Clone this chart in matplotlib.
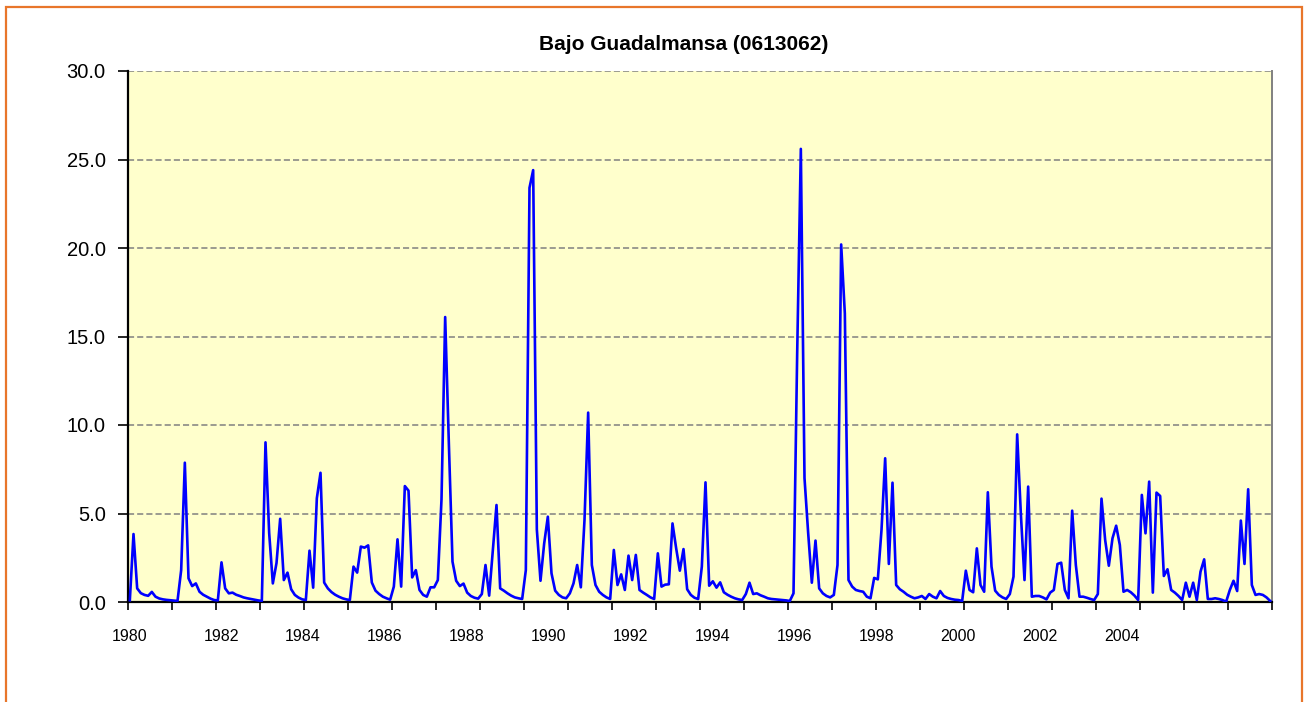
import numpy as np
import matplotlib
matplotlib.use("Agg")
import matplotlib.pyplot as plt
from matplotlib.patches import Rectangle

# --------------------------------
# Datos (caudal medio mensual, hm3)
# --------------------------------
titulo = "Bajo Guadalmansa (0613062)"
anios = ["1980", "1982", "1984", "1986", "1988", "1990", "1992",
         "1994", "1996", "1998", "2000", "2002", "2004"]
caudal = [
    0.10, 3.84, 0.77, 0.50, 0.40, 0.35, 0.57, 0.30, 0.20, 0.15, 0.12, 0.10,   # 1980
    0.08, 0.06, 1.80, 7.87, 1.34, 0.90, 1.05, 0.58, 0.41, 0.30, 0.19, 0.11,   # 1981
    0.09, 2.24, 0.77, 0.49, 0.53, 0.41, 0.34, 0.26, 0.21, 0.17, 0.13, 0.09,   # 1982
    0.06, 9.02, 3.90, 1.05, 2.20, 4.70, 1.24, 1.66, 0.72, 0.40, 0.25, 0.15,   # 1983
    0.11, 2.90, 0.81, 5.86, 7.30, 1.10, 0.77, 0.56, 0.41, 0.30, 0.21, 0.15,   # 1984
    0.11, 2.00, 1.66, 3.13, 3.07, 3.20, 1.10, 0.64, 0.45, 0.30, 0.21, 0.13,   # 1985
    0.87, 3.54, 0.87, 6.55, 6.29, 1.39, 1.80, 0.68, 0.40, 0.30, 0.83, 0.83,   # 1986
    1.24, 5.80, 16.1, 9.00, 2.28, 1.20, 0.90, 1.04, 0.53, 0.34, 0.24, 0.19,   # 1987
    0.45, 2.09, 0.36, 2.94, 5.48, 0.77, 0.64, 0.49, 0.36, 0.26, 0.21, 0.17,   # 1988
    1.80, 23.4, 24.4, 4.10, 1.20, 3.30, 4.82, 1.62, 0.64, 0.40, 0.26, 0.21,   # 1989
    0.49, 1.05, 2.09, 0.83, 4.63, 10.7, 2.09, 0.96, 0.58, 0.40, 0.26, 0.17,   # 1990
    2.94, 0.96, 1.56, 0.68, 2.62, 1.24, 2.66, 0.68, 0.53, 0.40, 0.26, 0.17,   # 1991
    2.75, 0.87, 0.98, 1.00, 4.44, 3.03, 1.77, 2.99, 0.72, 0.40, 0.24, 0.17,   # 1992
    2.00, 6.76, 0.92, 1.17, 0.81, 1.11, 0.55, 0.41, 0.30, 0.21, 0.15, 0.11,   # 1993
    0.45, 1.09, 0.45, 0.49, 0.38, 0.30, 0.21, 0.17, 0.15, 0.13, 0.11, 0.09,   # 1994
    0.06, 0.49, 14.0, 25.6, 7.00, 3.90, 1.09, 3.47, 0.77, 0.49, 0.34, 0.26,   # 1995
    0.40, 2.09, 20.2, 16.3, 1.24, 0.87, 0.68, 0.62, 0.58, 0.30, 0.21, 1.36,   # 1996
    1.28, 4.07, 8.12, 2.15, 6.74, 0.96, 0.72, 0.58, 0.41, 0.30, 0.21, 0.26,   # 1997
    0.34, 0.17, 0.45, 0.30, 0.21, 0.62, 0.34, 0.23, 0.17, 0.13, 0.11, 0.06,   # 1998
    1.77, 0.68, 0.55, 3.03, 0.96, 0.58, 6.20, 2.00, 0.64, 0.40, 0.26, 0.17,   # 1999
    0.45, 1.43, 9.47, 5.00, 1.24, 6.52, 0.30, 0.34, 0.34, 0.26, 0.15, 0.53,   # 2000
    0.68, 2.15, 2.22, 0.68, 0.21, 5.16, 2.09, 0.30, 0.30, 0.24, 0.17, 0.11,   # 2001
    0.45, 5.84, 3.50, 2.05, 3.60, 4.31, 3.22, 0.58, 0.68, 0.55, 0.36, 0.11,   # 2002
    6.05, 3.88, 6.80, 0.53, 6.18, 5.99, 1.47, 1.85, 0.68, 0.53, 0.34, 0.11,   # 2003
    1.09, 0.30, 1.09, 0.11, 1.71, 2.41, 0.17, 0.17, 0.21, 0.17, 0.11, 0.02,   # 2004
    0.68, 1.20, 0.62, 4.60, 2.15, 6.37, 0.96, 0.40, 0.45, 0.40, 0.26, 0.06,   # 2005
]

# --------------------------------
# Figura
# --------------------------------
plt.rcParams['font.family'] = ['Liberation Sans', 'DejaVu Sans']

W, H = 1307, 702
fig = plt.figure(figsize=(W / 100, H / 100), dpi=100)
fig.patch.set_facecolor("white")

# marco naranja del área del gráfico
fig.patches.append(Rectangle((6 / W, -0.05), (1302 - 6) / W, 1.05 - 7 / H,
                             transform=fig.transFigure, fill=False,
                             edgecolor="#E8762B", linewidth=1.6))

x0, x1, y_top, y_bot = 128, 1272, 71, 602
ax = fig.add_axes([x0 / W, (H - y_bot) / H, (x1 - x0) / W, (y_bot - y_top) / H])
ax.set_facecolor("#FFFFCC")

n = len(caudal)
x = np.arange(n) + 0.5
ax.plot(x, caudal, color="#0000FF", linewidth=1.9, zorder=3)

ax.set_xlim(0, n)
ax.set_ylim(0, 30)

# rejilla horizontal discontinua
yt = np.arange(0, 35, 5)
for v in yt[1:]:
    ax.axhline(v, color="#808080", linestyle=(0, (4, 2)), linewidth=1.1, zorder=1)

ax.set_yticks(yt)
ax.set_yticklabels([f"{v:.1f}" for v in yt])
ax.tick_params(axis="y", direction="out", length=7, width=1.2, labelsize=14.5, pad=9)

ax.set_xticks(np.arange(0, n + 1, 12))
ax.set_xticklabels([])
ax.tick_params(axis="x", direction="out", length=6, width=1.2)

# etiquetas de años (posiciones como en el original, no coinciden con las marcas)
for k, a in enumerate(anios):
    pos = 0.55 if k == 0 else 25.4 + 22.34 * (k - 1)
    ax.text(pos, -1.95, a, ha="center", va="center", fontsize=11.5)

for s in ["left", "bottom"]:
    ax.spines[s].set_color("black")
    ax.spines[s].set_linewidth(1.6)
ax.spines["top"].set_visible(False)
ax.spines["right"].set_color("#808080")
ax.spines["right"].set_linewidth(1.4)

fig.text(684 / W, 1 - 44 / H, titulo, ha="center", va="center",
         fontsize=15, fontweight="bold")

fig.savefig("out.png", dpi=100)
